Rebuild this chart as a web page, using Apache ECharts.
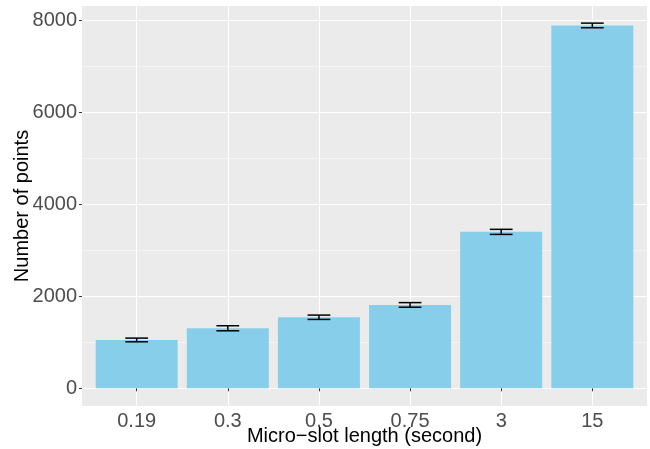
<!DOCTYPE html>
<html>
<head>
<meta charset="utf-8">
<script src="https://cdn.jsdelivr.net/npm/echarts@6/dist/echarts.min.js"></script>
<style>html,body{margin:0;padding:0;background:#fff}#c{width:650px;height:449px}</style>
</head>
<body>
<div id="c"></div>
<script>
const categories = ['0.19', '0.3', '0.5', '0.75', '3', '15'];
const means = [1050, 1304, 1543, 1811, 3398, 7883];
const errors = [40, 55, 47, 50, 55, 50];
const yTicks = [0, 2000, 4000, 6000, 8000];
const yMinorTicks = [1000, 3000, 5000, 7000];
const xTitle = 'Micro\u2212slot length (second)';
const yTitle = 'Number of points';

const positions = categories.map((c, i) => i + 1);
const barData = means.map((v, i) => [positions[i], v]);
const errData = means.map((v, i) => [positions[i], v - errors[i], v + errors[i]]);

const chart = echarts.init(document.getElementById('c'), null, {renderer: 'canvas'});
const font = 'Liberation Sans, Arial, Helvetica, sans-serif';
chart.setOption({
  animation: false,
  backgroundColor: '#ffffff',
  grid: {left: 82, right: 3, top: 6, bottom: 43, show: true, backgroundColor: '#EBEBEB', borderWidth: 0,
    containLabel: false, outerBoundsMode: 'none'},
  xAxis: {
    type: 'value', min: 0.4, max: 6.6,
    name: xTitle, nameLocation: 'middle', nameGap: 20, nameMoveOverlap: false,
    nameTextStyle: {color: '#000', fontSize: 20, fontFamily: font},
    axisLine: {show: false},
    axisTick: {show: true, length: 3, customValues: positions, lineStyle: {color: '#333', width: 1}},
    axisLabel: {customValues: positions, color: '#4D4D4D', fontSize: 20, fontFamily: font, margin: 5,
      formatter: v => categories[Math.round(v) - 1] || ''},
    splitLine: {show: true, lineStyle: {color: '#fff', width: 1.1}}
  },
  yAxis: [{
    type: 'value', min: -385, max: 8305,
    name: yTitle, nameLocation: 'middle', nameGap: 50, nameMoveOverlap: false,
    nameTextStyle: {color: '#000', fontSize: 20, fontFamily: font},
    axisLine: {show: false},
    axisTick: {show: true, length: 3, customValues: yTicks, lineStyle: {color: '#333', width: 1}},
    axisLabel: {customValues: yTicks, color: '#4D4D4D', fontSize: 20, fontFamily: font, margin: 5,
      formatter: v => String(v)},
    splitLine: {show: true, lineStyle: {color: '#fff', width: 1.1}}
  }, {
    type: 'value', min: -385, max: 8305, position: 'left',
    axisLine: {show: false},
    axisTick: {show: false, customValues: yMinorTicks},
    axisLabel: {show: false, customValues: yMinorTicks},
    splitLine: {show: true, lineStyle: {color: '#fff', width: 0.5}}
  }],
  series: [{
    type: 'bar', data: barData, barWidth: 82,
    itemStyle: {color: '#87CEEB'}, z: 2
  }, {
    type: 'custom', data: errData, z: 3,
    renderItem: function (params, api) {
      const x = api.value(0);
      const lo = api.coord([x, api.value(1)]);
      const hi = api.coord([x, api.value(2)]);
      const hw = api.size([0.25, 0])[0] / 2;
      const st = {stroke: '#000', lineWidth: 1.5};
      return {type: 'group', children: [
        {type: 'line', shape: {x1: lo[0], y1: lo[1], x2: hi[0], y2: hi[1]}, style: st},
        {type: 'line', shape: {x1: lo[0] - hw, y1: lo[1], x2: lo[0] + hw, y2: lo[1]}, style: st},
        {type: 'line', shape: {x1: hi[0] - hw, y1: hi[1], x2: hi[0] + hw, y2: hi[1]}, style: st}
      ]};
    }
  }]
});
</script>
</body>
</html>
